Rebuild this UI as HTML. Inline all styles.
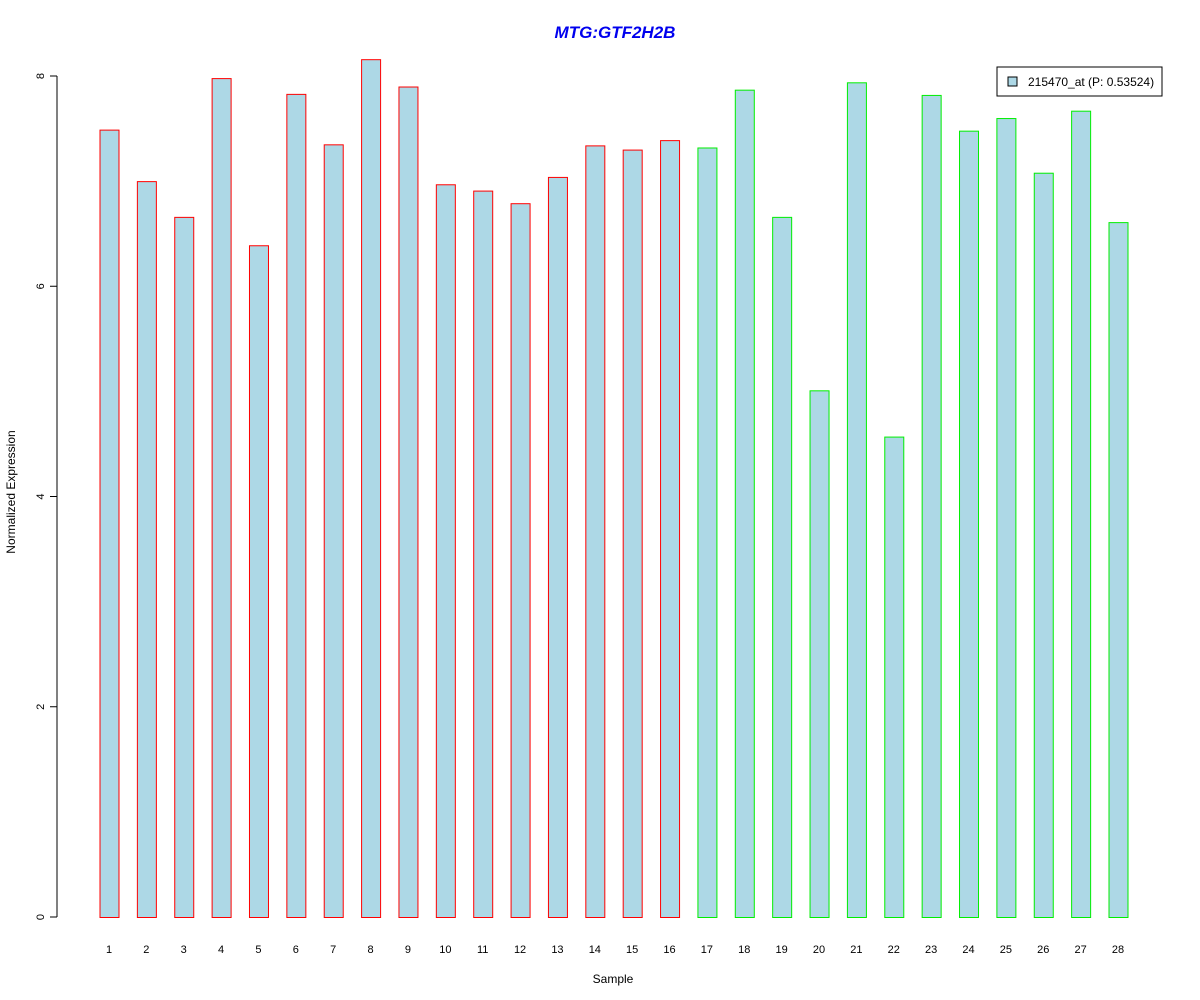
<!DOCTYPE html>
<html><head><meta charset="utf-8"><style>
body{margin:0;background:#fff;}
svg{display:block;font-family:"Liberation Sans",Arial,sans-serif;}
</style></head><body>
<svg id="chart" width="1200" height="1000">
<text x="615" y="38" text-anchor="middle" font-size="17" font-weight="bold" font-style="italic" fill="#0000ee">MTG:GTF2H2B</text>
<text x="613" y="983" text-anchor="middle" font-size="12">Sample</text>
<text transform="translate(15,492) rotate(-90)" text-anchor="middle" font-size="12">Normalized Expression</text>
<g id="yaxis"></g>
<g id="bars"></g>
<g id="xlabels"></g>
<g>
<rect x="997" y="67" width="165" height="29" fill="#fff" stroke="#000"/>
<rect x="1008" y="77" width="9" height="9" fill="#add8e6" stroke="#000"/>
<text x="1028" y="86" font-size="12">215470_at (P: 0.53524)</text>
</g>
</svg>
<script>
const categories = ["1","2","3","4","5","6","7","8","9","10","11","12","13","14","15","16","17","18","19","20","21","22","23","24","25","26","27","28"];
const values = [7.49,7.00,6.66,7.98,6.39,7.83,7.35,8.16,7.90,6.97,6.91,6.79,7.04,7.34,7.30,7.39,7.32,7.87,6.66,5.01,7.94,4.57,7.82,7.48,7.60,7.08,7.67,6.61];
const groups = ["a","a","a","a","a","a","a","a","a","a","a","a","a","a","a","a","b","b","b","b","b","b","b","b","b","b","b","b"];
const yTicks = [0,2,4,6,8];
const NS="http://www.w3.org/2000/svg";
const y0=917, y8=76;
function yScale(v){return y0-(y0-y8)*v/8;}
function xScale(i){return 109+i*(1118-109)/27;}
const bw=19;
const yax=document.getElementById('yaxis');
let ln=document.createElementNS(NS,'line');
ln.setAttribute('x1',57);ln.setAttribute('x2',57);
ln.setAttribute('y1',yScale(0));ln.setAttribute('y2',yScale(8));
ln.setAttribute('stroke','#000');


yax.appendChild(ln);
yTicks.forEach(t=>{
  const y=yScale(t);
  const tk=document.createElementNS(NS,'line');
  tk.setAttribute('x1',50);tk.setAttribute('x2',57);tk.setAttribute('y1',y);tk.setAttribute('y2',y);tk.setAttribute('stroke','#000');
  
  
  yax.appendChild(tk);
  const tx=document.createElementNS(NS,'text');
  tx.setAttribute('transform','translate(44,'+y+') rotate(-90)');
  tx.setAttribute('text-anchor','middle');tx.setAttribute('font-size','11');
  tx.textContent=t;
  
  
  yax.appendChild(tx);
});
const bars=document.getElementById('bars'), xl=document.getElementById('xlabels');
values.forEach((v,i)=>{
  const r=document.createElementNS(NS,'rect');
  const x=xScale(i);
  r.setAttribute('x',x-bw/2+0.5);r.setAttribute('width',bw);
  r.setAttribute('y',yScale(v)+0.5);r.setAttribute('height',yScale(0)-yScale(v));
  r.setAttribute('fill','#add8e6');
  r.setAttribute('stroke',groups[i]==='a'?'#ff0000':'#00ee00');
  
  
  bars.appendChild(r);
  const t=document.createElementNS(NS,'text');
  t.setAttribute('x',x);t.setAttribute('y',953);t.setAttribute('text-anchor','middle');t.setAttribute('font-size','11');
  t.textContent=categories[i];
  
  
  xl.appendChild(t);
});
</script>
</body></html>
